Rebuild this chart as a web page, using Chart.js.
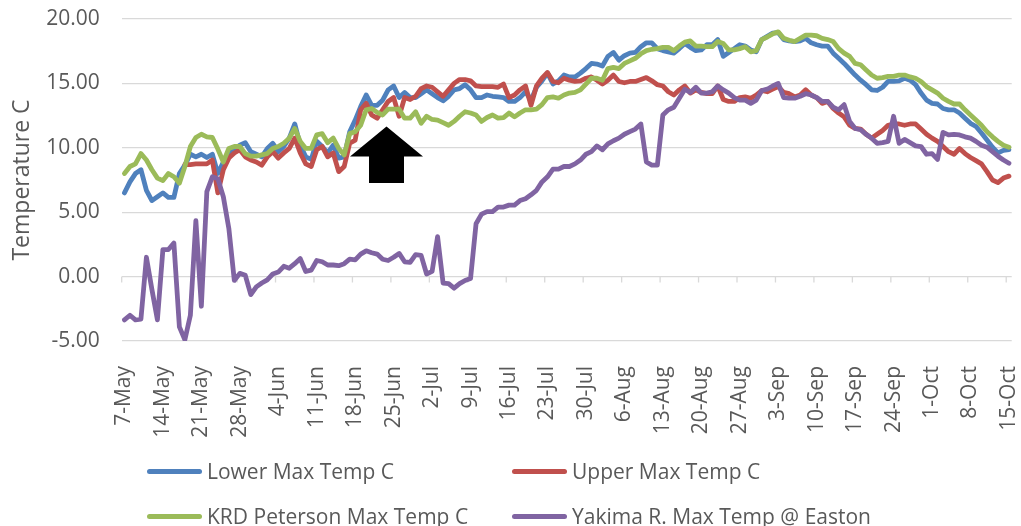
<!DOCTYPE html>
<html>
<head>
<meta charset="utf-8">
<title>Max Temp</title>
<script src="https://cdn.jsdelivr.net/npm/chart.js@4/dist/chart.umd.min.js"></script>
<style>
  body { margin: 0; background: #fff; }
  #wrap { position: relative; width: 1021px; height: 526px; }
  .leg { position: absolute; font: 21px 'Open Sans', sans-serif; color: #595959; line-height: 28px; white-space: nowrap; }
  .leg span { position: absolute; left: 0; top: 12px; width: 55px; height: 5px; border-radius: 3px; }
  .leg b { font-weight: normal; position: absolute; left: 60px; top: 0; }
</style>
</head>
<body>
<div id="wrap">
  <canvas id="myChart" width="1021" height="526"></canvas>
</div>
<script>
// day-by-day categories, 7-May .. 15-Oct
let months = [['May', 31], ['Jun', 30], ['Jul', 31], ['Aug', 31], ['Sep', 30], ['Oct', 15]];
let days = [];
months.forEach(function (m, k) {
    for (let d = (k === 0 ? 7 : 1); d <= m[1]; d++) days.push(d + '-' + m[0]);
});

let tickLabels = ['7-May', '14-May', '21-May', '28-May', '4-Jun', '11-Jun', '18-Jun', '25-Jun',
    '2-Jul', '9-Jul', '16-Jul', '23-Jul', '30-Jul', '6-Aug', '13-Aug', '20-Aug', '27-Aug',
    '3-Sep', '10-Sep', '17-Sep', '24-Sep', '1-Oct', '8-Oct', '15-Oct'];

let seriesNames = ['Lower Max Temp C', 'Upper Max Temp C', 'KRD Peterson Max Temp C', 'Yakima R. Max Temp @ Easton'];
let colors = ['#4f81bd', '#c0504d', '#9bbb59', '#8064a2'];

let lower = [
    6.5, 7.35, 8.0, 8.3, 6.7, 5.9, 6.2, 6.5, 6.15, 6.15,
    8.0, 8.65, 9.5, 9.3, 9.5, 9.25, 9.5, 8.0, 8.9, 9.6,
    9.85, 10.2, 10.4, 9.7, 9.5, 9.3, 9.95, 10.35, 9.7, 10.1,
    10.75, 11.85, 10.2, 9.3, 9.1, 10.5, 10.1, 9.6, 10.2, 9.2,
    9.3, 11.25, 12.15, 13.2, 14.1, 13.3, 13.3, 13.7, 14.5, 14.8,
    13.9, 14.3, 13.9, 13.9, 14.2, 14.5, 14.2, 13.9, 13.65, 14.0,
    14.5, 14.6, 14.9, 14.5, 13.9, 13.9, 14.1, 14.0, 13.95, 13.9,
    13.6, 13.6, 13.9, 14.35, 13.7, 14.7, 15.2, 15.8, 14.95, 15.2,
    15.65, 15.5, 15.5, 15.8, 16.15, 16.55, 16.5, 16.35, 17.1, 17.4,
    16.8, 17.15, 17.35, 17.4, 17.85, 18.15, 18.15, 17.7, 17.55, 17.45,
    17.35, 17.7, 18.1, 17.8, 17.55, 17.6, 18.0, 18.0, 18.4, 17.1,
    17.4, 17.7, 18.0, 17.9, 17.6, 17.45, 18.4, 18.65, 18.9, 18.95,
    18.4, 18.3, 18.25, 18.3, 18.5, 18.15, 18.0, 17.9, 17.9, 17.35,
    16.95, 16.55, 16.1, 15.65, 15.25, 14.9, 14.5, 14.45, 14.7, 15.15,
    15.15, 15.2, 15.4, 15.25, 14.9, 14.25, 13.7, 13.45, 13.4, 13.05,
    12.95, 12.95, 12.7, 12.3, 11.9, 11.65, 11.15, 10.6, 10.05, 9.6,
    9.8, 9.85];

let upper = [
    null, null, null, null, null, null, null, null, null, null,
    null, 8.7, 8.7, 8.75, 8.75, 8.75, 9.05, 6.5, 8.3, 9.2,
    9.6, 9.85, 9.3, 9.05, 8.9, 8.65, 9.3, 9.7, 9.2, 9.6,
    9.95, 10.75, 9.6, 8.75, 8.55, 9.85, 10.1, 9.3, 9.6, 8.15,
    8.55, 10.35, 10.6, 12.95, 13.45, 12.55, 12.3, 12.95, 13.6, 13.9,
    12.45, 13.9, 13.75, 14.0, 14.6, 14.8, 14.7, 14.35, 14.0, 14.5,
    15.0, 15.3, 15.3, 15.2, 14.8, 14.75, 14.75, 14.75, 14.7, 14.95,
    13.9, 14.1, 14.5, 14.8, 13.3, 14.8, 15.4, 15.85, 15.15, 15.05,
    15.4, 15.25, 15.15, 15.2, 15.4, 15.5, 15.25, 14.95, 15.25, 15.65,
    15.15, 15.05, 15.15, 15.15, 15.3, 15.45, 15.2, 14.9, 14.8, 14.35,
    14.1, 14.5, 14.8, 14.25, 14.5, 14.3, 14.2, 14.2, 14.8, 13.75,
    13.6, 13.6, 13.9, 13.95, 13.85, 14.1, 14.45, 14.35, 14.55, 14.75,
    14.3, 14.2, 13.95, 14.1, 14.5, 14.1, 13.9, 13.45, 13.6, 13.05,
    12.7, 12.4, 11.75, 11.5, 11.45, 11.05, 10.75, 11.05, 11.35, 11.75,
    11.85, 11.85, 11.75, 11.85, 11.85, 11.45, 11.05, 10.75, 10.5, 10.1,
    9.7, 9.5, 9.95, 9.55, 9.25, 9.0, 8.75, 8.15, 7.5, 7.3,
    7.65, 7.8];

let krd = [
    8.0, 8.55, 8.75, 9.55, 9.05, 8.3, 7.65, 7.45, 8.0, 7.75,
    7.25, 8.55, 10.1, 10.8, 11.05, 10.85, 10.8, 9.9, 8.9, 9.95,
    10.1, 10.1, 9.55, 9.35, 9.35, 9.45, 9.55, 9.95, 10.1, 10.35,
    10.75, 11.5, 10.5, 9.95, 9.95, 11.0, 11.1, 10.4, 10.75, 9.95,
    9.45, 11.1, 11.25, 11.75, 12.95, 13.05, 12.75, 12.55, 13.0, 13.0,
    13.0, 12.3, 12.3, 12.8, 11.9, 12.45, 12.2, 12.15, 11.95, 11.75,
    12.05, 12.45, 12.8, 12.7, 12.55, 12.05, 12.35, 12.55, 12.3, 12.35,
    12.7, 12.4, 12.7, 12.95, 12.95, 13.0, 13.35, 13.9, 13.95, 13.85,
    14.1, 14.25, 14.3, 14.5, 14.95, 15.4, 15.4, 15.25, 16.15, 16.25,
    16.15, 16.55, 16.75, 16.95, 17.3, 17.55, 17.65, 17.7, 17.8, 17.8,
    17.55, 17.9, 18.2, 18.3, 17.9, 17.9, 17.85, 17.85, 18.25, 18.1,
    17.6, 17.6, 17.7, 17.85, 17.45, 17.55, 18.4, 18.6, 18.85, 19.0,
    18.5, 18.35, 18.25, 18.5, 18.75, 18.75, 18.7, 18.5, 18.4, 18.25,
    17.7, 17.35, 17.1, 16.55, 16.45, 16.05, 15.65, 15.4, 15.45, 15.55,
    15.55, 15.65, 15.65, 15.5, 15.4, 15.15, 14.75, 14.5, 14.25, 13.85,
    13.6, 13.4, 13.4, 12.95, 12.55, 12.15, 11.75, 11.25, 10.85, 10.5,
    10.2, 10.05];

let yakima = [
    -3.36, -3.0, -3.36, -3.3, 1.5, -1.0, -3.36, 2.1, 2.1, 2.6,
    -3.9, -4.9, -3.0, 4.35, -2.3, 6.6, 7.75, 7.6, 6.2, 3.75,
    -0.3, 0.25, 0.1, -1.4, -0.8, -0.5, -0.25, 0.2, 0.35, 0.8,
    0.65, 1.0, 1.4, 0.4, 0.5, 1.25, 1.15, 0.9, 0.9, 0.85,
    1.0, 1.35, 1.3, 1.75, 2.0, 1.85, 1.75, 1.35, 1.25, 1.5,
    1.8, 1.15, 1.1, 1.7, 1.65, 0.2, 0.4, 3.1, -0.5, -0.55,
    -0.9, -0.55, -0.3, -0.15, 4.1, 4.85, 5.05, 5.05, 5.4, 5.4,
    5.55, 5.55, 5.9, 6.05, 6.35, 6.7, 7.35, 7.75, 8.35, 8.35,
    8.55, 8.55, 8.75, 9.05, 9.5, 9.7, 10.15, 9.85, 10.3, 10.55,
    10.75, 11.05, 11.25, 11.45, 11.85, 8.9, 8.65, 8.65, 12.55, 12.95,
    13.15, 13.85, 14.55, 14.3, 14.7, 14.25, 14.25, 14.35, 14.8, 14.5,
    14.25, 13.9, 13.7, 13.7, 13.45, 13.7, 14.45, 14.55, 14.8, 15.0,
    13.9, 13.85, 13.85, 14.0, 14.2, 14.1, 13.9, 13.6, 13.6, 13.15,
    12.95, 13.35, 12.05, 11.5, 11.4, 11.05, 10.75, 10.35, 10.4, 10.5,
    12.45, 10.35, 10.65, 10.4, 10.15, 10.1, 9.5, 9.55, 9.1, 11.2,
    11.0, 11.05, 11.0, 10.85, 10.75, 10.5, 10.2, 10.05, 9.7, 9.35,
    9.05, 8.8];

Chart.defaults.font.family = "'Open Sans', sans-serif";
Chart.defaults.font.size = 21;
Chart.defaults.color = '#595959';

// small tick marks sitting on the 0.00 line (category boundaries)
let zeroTicks = {
    id: 'zeroTicks',
    beforeDatasetsDraw(chart) {
        let ctx = chart.ctx, x = chart.scales.x, y = chart.scales.y;
        let y0 = y.getPixelForValue(0);
        ctx.save();
        ctx.strokeStyle = '#d9d9d9';
        ctx.lineWidth = 1.3;
        ctx.beginPath();
        for (let i = 0; i < days.length; i += 7) {
            let px = x.getPixelForValue(i - 0.5);
            ctx.moveTo(px, y0);
            ctx.lineTo(px, y0 + 6);
        }
        ctx.stroke();
        ctx.restore();
    }
};

// the black block arrow
let arrow = {
    id: 'arrow',
    afterDatasetsDraw(chart) {
        let ctx = chart.ctx;
        let tx = chart.scales.x.getPixelForValue(47.7);
        let ty = chart.scales.y.getPixelForValue(11.65);
        ctx.save();
        ctx.fillStyle = '#000';
        ctx.beginPath();
        ctx.moveTo(tx, ty);
        ctx.lineTo(tx + 36.5, ty + 30);
        ctx.lineTo(tx + 17.5, ty + 30);
        ctx.lineTo(tx + 17.5, ty + 56.5);
        ctx.lineTo(tx - 17.5, ty + 56.5);
        ctx.lineTo(tx - 17.5, ty + 30);
        ctx.lineTo(tx - 36.5, ty + 30);
        ctx.closePath();
        ctx.fill();
        ctx.restore();
    }
};

let allData = [lower, upper, krd, yakima];

let chart = new Chart(document.getElementById('myChart').getContext('2d'), {

    type: 'line',

    data: {
        labels: days,
        datasets: allData.map(function (d, k) {
            return {
                label: seriesNames[k],
                data: d,
                borderColor: colors[k],
                backgroundColor: colors[k],
                borderWidth: 4.8,
                borderJoinStyle: 'round',
                borderCapStyle: 'round',
                pointRadius: 0,
                tension: 0,
                order: 4 - k
            };
        })
    },

    options: {
        responsive: false,
        animation: false,
        layout: { padding: { top: 19, right: 9.3, left: 0, bottom: 0 } },
        plugins: {
            legend: { display: false },
            tooltip: { enabled: false }
        },
        scales: {
            x: {
                offset: true,
                grid: { display: false },
                border: { display: false },
                ticks: {
                    autoSkip: false,
                    maxRotation: 90,
                    minRotation: 90,
                    padding: 17,
                    callback: function (v) {
                        let l = this.getLabelForValue(v);
                        return tickLabels.indexOf(l) >= 0 ? l : '';
                    }
                },
                afterFit: function (s) {
                    s.height = 185;
                    s.paddingLeft = 0;
                    s.paddingRight = 0;
                }
            },
            y: {
                min: -5,
                max: 20,
                grid: { color: '#d9d9d9', lineWidth: 1.3, drawTicks: false },
                border: { display: false },
                ticks: {
                    stepSize: 5,
                    padding: 22,
                    callback: function (v) { return v.toFixed(2); }
                },
                title: {
                    display: true,
                    text: 'Temperature C',
                    font: { size: 23 },
                    padding: { top: 9, bottom: 0 }
                },
                afterFit: function (s) {
                    s.width = 121.7;
                    s.paddingTop = 0;
                    s.paddingBottom = 0;
                }
            }
        }
    },

    plugins: [zeroTicks, arrow]
});

// legend in two columns under the plot
let legPos = [[147, 457], [512, 457], [147, 501.5], [512, 501.5]];
chart.data.datasets.forEach(function (ds, k) {
    let item = document.createElement('div');
    item.className = 'leg';
    item.style.left = legPos[k][0] + 'px';
    item.style.top = legPos[k][1] + 'px';
    item.innerHTML = '<span style="background:' + ds.borderColor + '"></span><b>' + ds.label + '</b>';
    document.getElementById('wrap').appendChild(item);
});
</script>
</body>
</html>
